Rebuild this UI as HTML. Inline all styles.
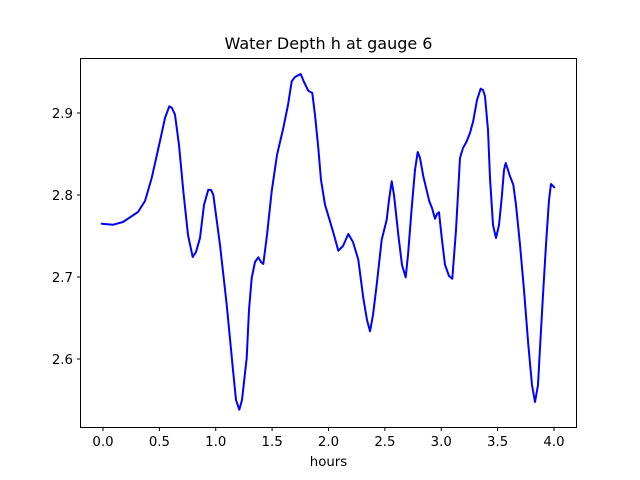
<!DOCTYPE html>
<html><head><meta charset="utf-8"><style>body{margin:0;background:#fff}svg{display:block}text{font-family:"DejaVu Sans","Liberation Sans",sans-serif;fill:#000}</style></head>
<body>
<svg width="640" height="480" viewBox="0 0 640 480" xmlns="http://www.w3.org/2000/svg">
<rect width="640" height="480" fill="#fff"/>
<polyline fill="none" stroke="#0000ff" stroke-width="2" stroke-linejoin="round" stroke-linecap="round" points="
101.7,223.7 113.3,224.7 123,222 138,212 145,201 151.7,178 160,141 165,118 169.3,106.3 172,108 175,114.7 179,145 183.3,191 188,235 192.7,257 196,252 200,238 204,205 208.3,189.7 211,190 213.3,194.7 220,245 226.7,304.7 233,370 236,400 239.3,409.7 242,400 246.7,358 249,310 251.7,278 255,262 258.3,257.3 261,262 263.3,264 267,235 271.7,191.3 277,155 283.3,128 288,105 291.7,81.3 295,77 300.7,74 304,82 308.3,90.7 312.3,93 315,115 318.3,148 321,180 325,204.7 330,221.3 334,235 338.3,250.7 343,246 348.3,234 353,242 358.3,259.7 363.3,298 367,320 370,331.3 373,315 376.7,284.7 381.7,239.7 386.7,219.7 389,200 391.7,181.3 394,195 398.3,234.7 402,265 405.7,277.3 408,255 411.7,208 415,170 417.7,152 420,158 423.3,176.3 429.3,201.3 432,208 435,218.7 437,214 439,212.3 442,240 445,264.7 449,276 452.3,278.7 456,230 460,158 463,148 466.7,141.3 470,133 473.3,120.7 477,100 480.7,88.7 483,90 485,96.3 488,130 490,178 493,225 496,238 499,225 501.7,198 504,170 505.7,163 508,170 510,176.3 513.3,184.7 516,205 520,244.7 524,290 528.3,344.7 532,385 535,402 538,385 540,348 543,295 546,244.7 549,200 551,184 554.3,187.3"/>
<rect x="80.5" y="58.5" width="496" height="369" fill="none" stroke="#000" stroke-width="1"/>
<g stroke="#000" stroke-width="1">
<line x1="103" y1="427.5" x2="103" y2="431"/><line x1="159.4" y1="427.5" x2="159.4" y2="431"/><line x1="215.75" y1="427.5" x2="215.75" y2="431"/><line x1="272.1" y1="427.5" x2="272.1" y2="431"/><line x1="328.5" y1="427.5" x2="328.5" y2="431"/><line x1="384.9" y1="427.5" x2="384.9" y2="431"/><line x1="441.25" y1="427.5" x2="441.25" y2="431"/><line x1="497.6" y1="427.5" x2="497.6" y2="431"/><line x1="554" y1="427.5" x2="554" y2="431"/>
<line x1="77" y1="359" x2="80.5" y2="359"/><line x1="77" y1="277" x2="80.5" y2="277"/><line x1="77" y1="195" x2="80.5" y2="195"/><line x1="77" y1="113" x2="80.5" y2="113"/>
</g>
<g font-size="13.3" text-anchor="middle">
<text x="103" y="446">0.0</text><text x="159.4" y="446">0.5</text><text x="215.75" y="446">1.0</text><text x="272.1" y="446">1.5</text><text x="328.5" y="446">2.0</text><text x="384.9" y="446">2.5</text><text x="441.25" y="446">3.0</text><text x="497.6" y="446">3.5</text><text x="554" y="446">4.0</text>
<text x="328.5" y="466">hours</text>
</g>
<g font-size="13.3" text-anchor="end">
<text x="73" y="364">2.6</text><text x="73" y="282">2.7</text><text x="73" y="200">2.8</text><text x="73" y="118">2.9</text>
</g>
<text x="328.5" y="49" font-size="16" text-anchor="middle">Water Depth h at gauge 6</text>
</svg>
</body></html>
